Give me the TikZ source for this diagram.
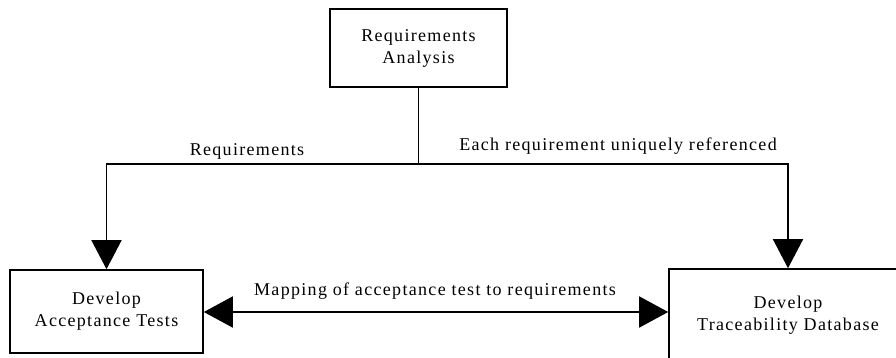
\documentclass[tikz,border=0pt]{standalone}
\usepackage{fontspec}
\setmainfont{Liberation Serif}[LetterSpace=7.3]
\usetikzlibrary{arrows.meta}
\begin{document}
\begin{tikzpicture}[x=1pt,y=-1pt,
  txt/.style={font=\fontsize{18}{22}\selectfont},
  procbox/.style={draw,line width=1.6pt,align=center,inner sep=0pt,txt},
  flow/.style={line width=1.6pt,-{Triangle[length=29pt,width=30pt]}},
  biflow/.style={line width=1.6pt,{Triangle[length=29pt,width=31pt]}-{Triangle[length=29pt,width=31pt]}},
  lbl/.style={txt,anchor=base,inner sep=0pt}]
\useasboundingbox (0,0) rectangle (896,357);

% process boxes
\node[procbox,minimum width=177pt,minimum height=78pt] (ra) at (418.5,48) {Requirements\\Analysis};
\node[procbox,minimum width=193pt,minimum height=83pt] (dat) at (106.5,311.5) {Develop\\Acceptance Tests};
\node[procbox,minimum width=238pt,minimum height=92pt] (dtd) at (788,315) {Develop\\Traceability Database};

% branching of the requirements flow
\coordinate (split) at (ra.south |- 0,164);
\draw[line width=1.6pt] (ra.south) -- (split);
\draw[flow] (split) -| (dat.north);
\draw[flow] (split) -| (dtd.north);

% two-way mapping between the lower boxes
\draw[biflow] (dat.east |- 0,312) -- (dtd.west |- 0,312);

% flow labels
\node[lbl] (l1) at (247,155) {Requirements};
\node[lbl] (l2) at (618,150) {Each requirement uniquely referenced};
\node[lbl] (l3) at (435,295) {Mapping of acceptance test to requirements};
\end{tikzpicture}
\end{document}
